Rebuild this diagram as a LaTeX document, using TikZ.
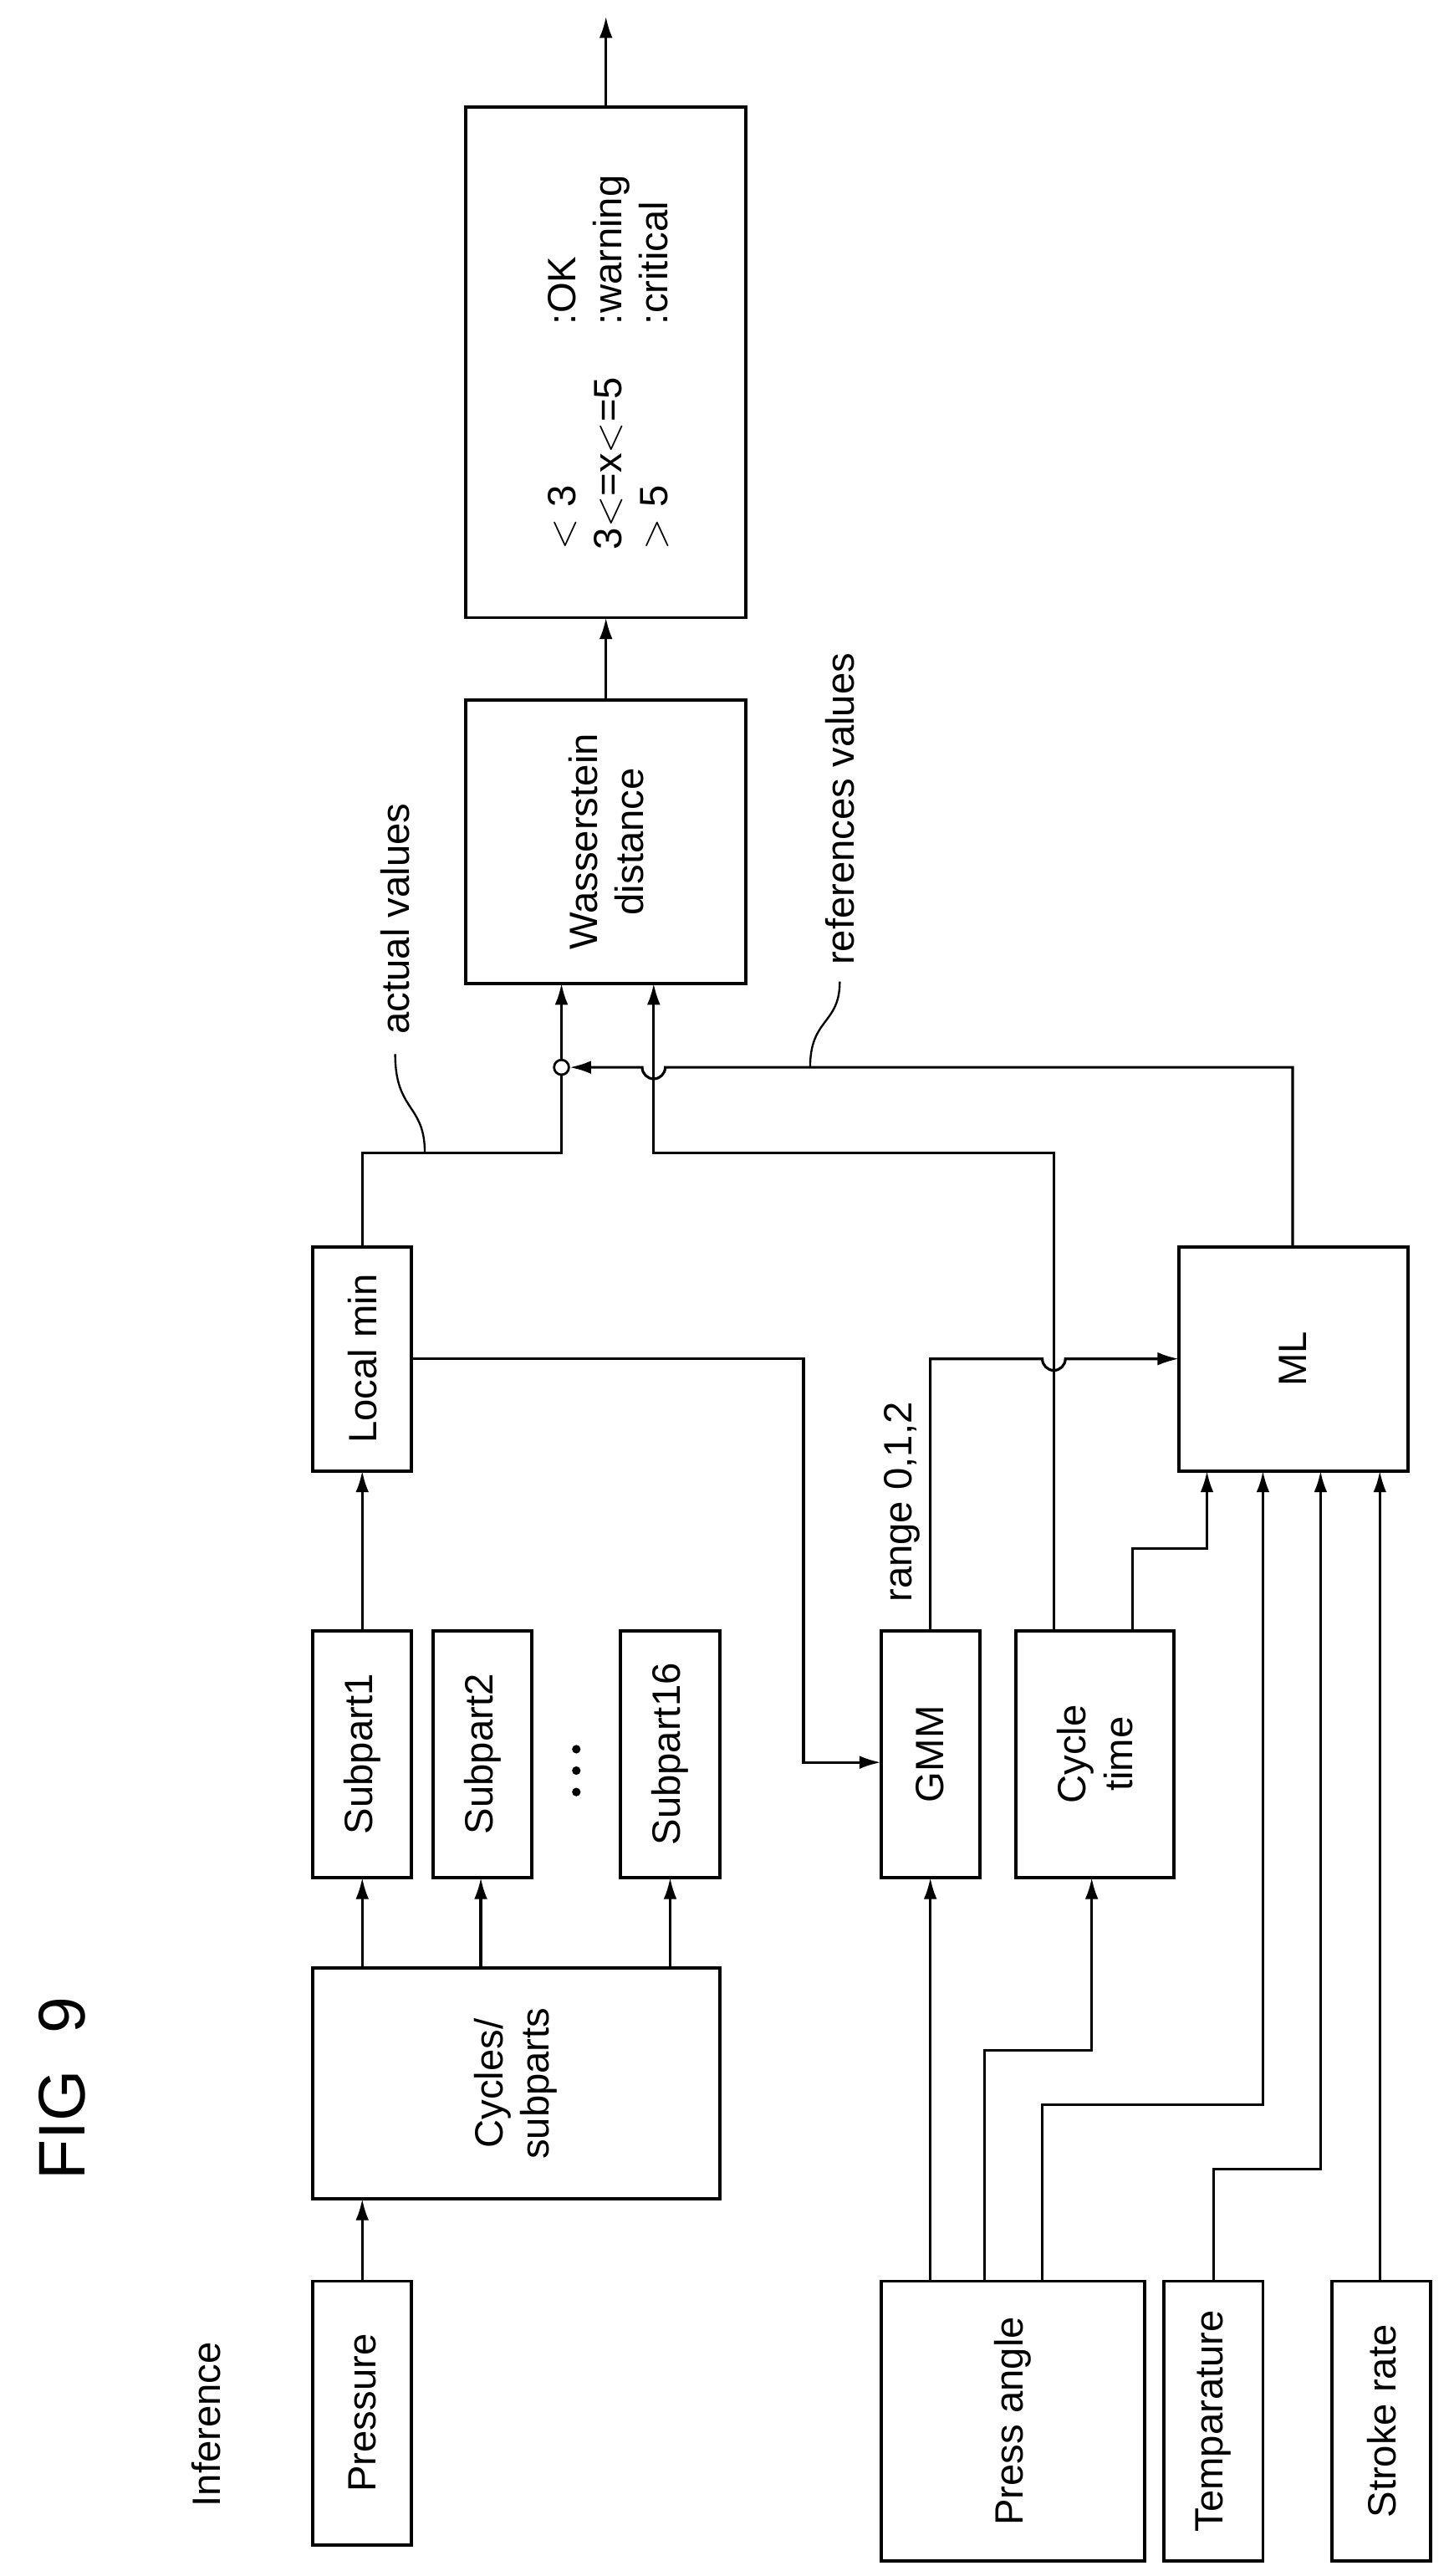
\documentclass[tikz,border=0pt]{standalone}
\usepackage{fontspec}
\setmainfont{Liberation Sans}
\usetikzlibrary{arrows.meta}
\begin{document}
\begin{tikzpicture}[x=1pt,y=-1pt,line width=1.6pt,
  box/.style={draw,line width=2pt},
  lbl/.style={rotate=90,font=\fontsize{24}{28}\selectfont,align=center},
  arr/.style={-{Latex[length=13pt,width=8pt]}}]
\useasboundingbox (0,0) rectangle (880,1564);
\node[rotate=90,font=\fontsize{40}{44}\selectfont] (fig) at (38,1268) {FIG\ \ 9};
\node[lbl] (inf) at (125,1472) {Inference};
% boxes
\draw[box] (190,1385) rectangle (250,1545); \node[lbl] (pres) at (220,1465) {Pressure};
\draw[box] (190,1195) rectangle (437,1335); \node[lbl] (cyc) at (313,1265) {Cycles/\\subparts};
\draw[box] (190,990) rectangle (250,1140); \node[lbl] (s1) at (220,1065) {Subpart1};
\draw[box] (263,990) rectangle (323,1140); \node[lbl] (s2) at (293,1065) {Subpart2};
\draw[box] (377,990) rectangle (437,1140); \node[lbl] (s16) at (407,1065) {Subpart16};
\foreach \yy in {1062,1075,1088} \fill (350,\yy) circle (2.6);
\draw[box] (190,757) rectangle (250,893); \node[lbl] (lm) at (220,825) {Local min};
\draw[box] (535,990) rectangle (595,1140); \node[lbl] (gmm) at (565,1065) {GMM};
\draw[box] (617,990) rectangle (713,1140); \node[lbl] (ct) at (665,1065) {Cycle\\time};
\draw[box] (716,757) rectangle (855,893); \node[lbl] (ml) at (785,825) {ML};
\draw[box] (535,1385) rectangle (695,1555); \node[lbl] (pa) at (615,1470) {Press angle};
\draw[box] (707,1385) rectangle (767,1555); \node[lbl] (tp) at (737,1470) {Temparature};
\draw[box] (809,1385) rectangle (869,1555); \node[lbl] (sr) at (839,1470) {Stroke rate};
\draw[box] (283,425) rectangle (453,597); \node[lbl] (wd) at (368,511) {Wasserstein\\distance};
\draw[box] (283,65) rectangle (453,375);
\node[lbl,anchor=center] (res) at (372,220) {\begin{tabular}{@{}l@{\hspace{32pt}}l@{}}$<$\ 3 & :OK\\3$<$=x$<$=5 & :warning\\$>$\ 5 & :critical\end{tabular}};
% arrows
\draw[arr] (220,1385) -- (220,1335);
\draw[arr] (220,1195) -- (220,1140);
\draw[arr] (292,1195) -- (292,1140);
\draw[arr] (407,1195) -- (407,1140);
\draw[arr] (220,990) -- (220,893);
\draw[arr] (250,825) -- (488,825) -- (488,1070) -- (535,1070);
\draw[arr] (565,1385) -- (565,1140);
\draw[arr] (598,1385) -- (598,1245) -- (663,1245) -- (663,1140);
\draw[arr] (633,1385) -- (633,1278) -- (767,1278) -- (767,893);
\draw[arr] (737,1385) -- (737,1317) -- (802,1317) -- (802,893);
\draw[arr] (838,1385) -- (838,893);
\draw[arr] (688,990) -- (688,940) -- (733,940) -- (733,893);
\draw[arr] (565,990) -- (565,825) -- (633,825) arc (180:0:7) -- (716,825);
\draw[arr] (640,990) -- (640,700) -- (397,700) -- (397,597);
\draw (220,757) -- (220,700) -- (341,700) -- (341,652);
\draw[fill=white,line width=1.4pt] (341,648) circle (4.5);
\draw[arr] (341,644) -- (341,597);
\draw[arr] (785,757) -- (785,648) -- (404,648) arc (0:180:7) -- (346,648);
\draw[arr] (368,425) -- (368,375);
\draw[arr] (368,65) -- (368,10);
% labels
\node[lbl] (rg) at (548,912) {range 0,1,2};
\node[lbl,anchor=west] (av) at (240,632) {actual values};
\draw[line width=1.2pt] (258,700) .. controls (258,670) and (240,675) .. (240,640);
\node[lbl,anchor=west] (rv) at (510,590) {references values};
\draw[line width=1.2pt] (492,648) .. controls (492,618) and (510,622) .. (510,596);
\end{tikzpicture}
\end{document}
